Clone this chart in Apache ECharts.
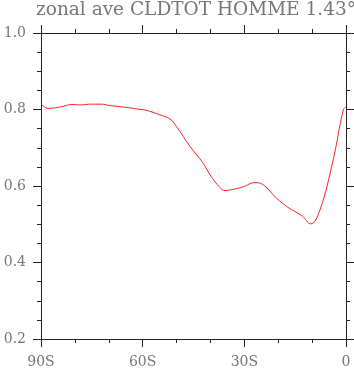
<!DOCTYPE html>
<html><head><meta charset="utf-8">
<script src="https://cdn.jsdelivr.net/npm/echarts@6/dist/echarts.min.js"></script>
<style>html,body{margin:0;padding:0;background:#fff}#c{width:354px;height:368px}</style>
</head><body><div id="c"></div>
<script>
const titleText = 'zonal ave CLDTOT HOMME 1.43°';
const lats = [-90, -87.9, -84.0, -81.1, -78.2, -75.3, -72.3, -69.4, -65.3, -61.4, -59.0, -54.9, -51.9, -50.0, -46.0, -42.1, -40.1, -37.2, -35.7, -33.0, -30.3, -26.9, -24.4, -20.5, -17.1, -16.0, -13.0, -10.4, -7.7, -3.8, -0.8, 0];
const cldtot = [0.815, 0.803, 0.807, 0.813, 0.812, 0.814, 0.814, 0.810, 0.806, 0.801, 0.798, 0.786, 0.775, 0.755, 0.703, 0.659, 0.629, 0.596, 0.588, 0.592, 0.598, 0.609, 0.603, 0.568, 0.544, 0.538, 0.522, 0.501, 0.537, 0.668, 0.799, 0.807];
const xTicks = {'-90': '90S', '-60': '60S', '-30': '30S', '0': '0'};
const yTicks = [0.2, 0.4, 0.6, 0.8, 1.0];

const font = 'DejaVu Serif';
const axisCol = '#222';
const labelCol = '#777';
const chart = echarts.init(document.getElementById('c'), null, {renderer: 'canvas'});
const baseAxis = {
  axisLine: {show: true, onZero: false, lineStyle: {color: axisCol, width: 1}},
  axisTick: {show: true, inside: false, length: 8, lineStyle: {color: axisCol, width: 1}},
  minorTick: {show: true, length: 4, lineStyle: {color: axisCol, width: 1}},
  splitLine: {show: false}
};
chart.setOption({
  animation: false,
  title: {text: titleText, left: 31, top: -4, textStyle: {fontFamily: font, fontWeight: 'normal', fontSize: 18.5, color: labelCol}},
  grid: {left: 41, right: 8, top: 33, bottom: 29, containLabel: false, outerBoundsMode: 'none'},
  xAxis: [
    Object.assign({}, baseAxis, {type: 'value', min: -90, max: 0, interval: 30, position: 'bottom',
      minorTick: Object.assign({}, baseAxis.minorTick, {splitNumber: 3}),
      axisLabel: {margin: 16, fontFamily: font, fontSize: 14, color: labelCol, formatter: v => xTicks[String(v)] || ''}}),
    Object.assign({}, baseAxis, {type: 'value', min: -90, max: 0, interval: 30, position: 'top',
      minorTick: Object.assign({}, baseAxis.minorTick, {splitNumber: 3}),
      axisLabel: {show: false}})
  ],
  yAxis: [
    Object.assign({}, baseAxis, {type: 'value', min: 0.2, max: 1.0, interval: 0.2, position: 'left',
      minorTick: Object.assign({}, baseAxis.minorTick, {splitNumber: 4}),
      axisLabel: {margin: 15, fontFamily: font, fontSize: 14, color: labelCol, formatter: v => v.toFixed(1)}}),
    Object.assign({}, baseAxis, {type: 'value', min: 0.2, max: 1.0, interval: 0.2, position: 'right',
      minorTick: Object.assign({}, baseAxis.minorTick, {splitNumber: 4}),
      axisLabel: {show: false}})
  ],
  series: [{
    type: 'line', xAxisIndex: 0, yAxisIndex: 0, smooth: 0.4, showSymbol: false,
    lineStyle: {color: '#ff2020', width: 1},
    data: lats.map((l, i) => [l, cldtot[i]])
  }]
});
</script></body></html>
